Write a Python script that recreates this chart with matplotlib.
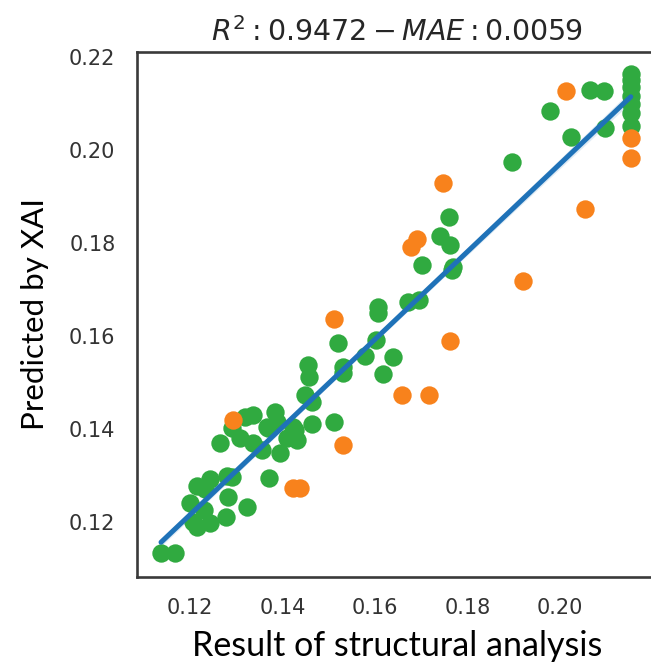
import numpy as np
import matplotlib
matplotlib.use("Agg")
import matplotlib.pyplot as plt
import seaborn as sns

# green points (good predictions)
green_x = [0.1137, 0.1168, 0.1206, 0.1214, 0.1243, 0.1278, 0.1200, 0.1230, 0.1282, 0.1323,
           0.1214, 0.1232, 0.1243, 0.1279, 0.1290, 0.1371, 0.1265, 0.1308, 0.1336, 0.1355,
           0.1395, 0.1290, 0.1369, 0.1427, 0.1431, 0.1409, 0.1319, 0.1336, 0.1384, 0.1387,
           0.1366, 0.1423, 0.1463, 0.1512, 0.1449, 0.1463, 0.1455, 0.1457, 0.1531, 0.1531,
           0.1519, 0.1578, 0.1602, 0.1618, 0.1639, 0.1606, 0.1606, 0.1671, 0.1695, 0.1701,
           0.1766, 0.1769, 0.1741, 0.1762, 0.1760, 0.1896, 0.1978, 0.2024, 0.2065, 0.2095,
           0.2097, 0.2153, 0.2153, 0.2153, 0.2153, 0.2153, 0.2153, 0.2153]
green_y = [0.1133, 0.1133, 0.1201, 0.1190, 0.1199, 0.1211, 0.1241, 0.1226, 0.1254, 0.1232,
           0.1277, 0.1271, 0.1292, 0.1299, 0.1297, 0.1295, 0.1371, 0.1381, 0.1370, 0.1355,
           0.1349, 0.1402, 0.1402, 0.1398, 0.1376, 0.1381, 0.1426, 0.1430, 0.1437, 0.1416,
           0.1405, 0.1405, 0.1412, 0.1415, 0.1473, 0.1459, 0.1538, 0.1512, 0.1534, 0.1520,
           0.1586, 0.1557, 0.1591, 0.1518, 0.1555, 0.1663, 0.1649, 0.1674, 0.1677, 0.1753,
           0.1742, 0.1749, 0.1815, 0.1796, 0.1857, 0.1975, 0.2085, 0.2028, 0.2129, 0.2128,
           0.2047, 0.2163, 0.2151, 0.2135, 0.2116, 0.2099, 0.2080, 0.2052]

# orange points (larger errors)
orange_x = [0.1293, 0.1511, 0.1531, 0.1423, 0.1438, 0.1658, 0.1717, 0.1762,
            0.1677, 0.1691, 0.1746, 0.1920, 0.2054, 0.2013, 0.2153, 0.2153]
orange_y = [0.1419, 0.1637, 0.1366, 0.1273, 0.1273, 0.1473, 0.1473, 0.1590,
            0.1791, 0.1809, 0.1929, 0.1719, 0.1873, 0.2128, 0.2026, 0.1983]

x_ticks = [0.12, 0.14, 0.16, 0.18, 0.20]
y_ticks = [0.12, 0.14, 0.16, 0.18, 0.20, 0.22]

sns.set_style("white")
plt.rcParams["font.family"] = ["DejaVu Sans"]

fig = plt.figure(figsize=(6.51, 6.67), dpi=100)
# the original picture was cropped on the right, so the axes runs past the edge
ax = fig.add_axes([0.2104, 0.135, 0.799, 0.787])

ax.scatter(green_x, green_y, s=175, color="#30aa40", linewidths=0, zorder=2)
ax.scatter(orange_x, orange_y, s=175, color="#f8821c", linewidths=0, zorder=3)

all_x = np.array(green_x + orange_x)
all_y = np.array(green_y + orange_y)
sns.regplot(x=all_x, y=all_y, ax=ax, scatter=False, color="#1f72b8", seed=0, ci=50,
            line_kws={"lw": 3.6, "zorder": 4})

ax.set_xlim(0.1085, 0.2210)
ax.set_ylim(0.1082, 0.2211)
ax.set_xticks(x_ticks)
ax.set_xticklabels([f"{t:.2f}" for t in x_ticks])
ax.set_yticks(y_ticks)
ax.set_yticklabels([f"{t:.2f}" for t in y_ticks])
ax.tick_params(labelsize=15, colors="#333333", pad=12)
for spine in ax.spines.values():
    spine.set_color("#3a3a3a")
    spine.set_linewidth(1.9)

ax.set_title(r"$R^2: 0.9472 - MAE: 0.0059$", fontsize=20.5, color="#262626", pad=8)
ax.set_xlabel("Result of structural analysis", fontsize=24.5, family="Lato",
              color="black", labelpad=8)
ax.set_ylabel("Predicted by XAI", fontsize=22.5, family="Lato",
              color="black", labelpad=14)

fig.savefig("out.png", dpi=100)
